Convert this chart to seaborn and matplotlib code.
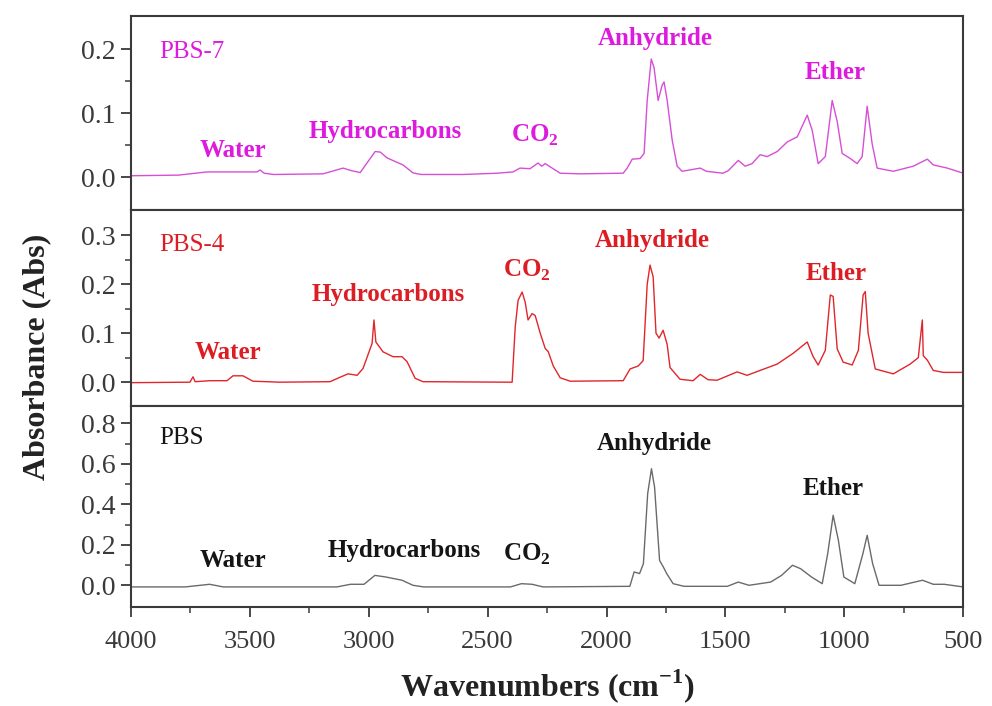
import numpy as np
import pandas as pd
import matplotlib
matplotlib.use("Agg")
import matplotlib.pyplot as plt
import seaborn as sns
from matplotlib.ticker import MultipleLocator, FixedLocator

# FTIR spectra of the evolved gases (wavenumber in cm^-1, absorbance)
pbs7_wn = [4000, 3800, 3680, 3470, 3457, 3440, 3400, 3192, 3108, 3073, 3036, 2973, 2951,
           2923, 2881, 2856, 2814, 2780, 2603, 2460, 2393, 2364, 2322, 2288, 2273, 2258,
           2237, 2195, 2111, 1930, 1913, 1892, 1859, 1842, 1829, 1812, 1800, 1783, 1766,
           1758, 1745, 1724, 1703, 1682, 1606, 1580, 1510, 1488, 1446, 1417, 1388, 1354,
           1325, 1282, 1240, 1198, 1156, 1135, 1110, 1080, 1051, 1030, 1009, 975, 946,
           925, 904, 883, 862, 794, 710, 651, 626, 567, 500]
pbs7_abs = [0.002, 0.003, 0.008, 0.008, 0.011, 0.006, 0.004, 0.005, 0.014, 0.010, 0.007,
            0.040, 0.039, 0.030, 0.023, 0.019, 0.0065, 0.004, 0.004, 0.006, 0.008, 0.014,
            0.013, 0.022, 0.017, 0.021, 0.016, 0.006, 0.005, 0.006, 0.014, 0.028, 0.029,
            0.037, 0.120, 0.185, 0.171, 0.120, 0.144, 0.149, 0.120, 0.058, 0.017, 0.009,
            0.014, 0.009, 0.006, 0.010, 0.026, 0.017, 0.021, 0.035, 0.032, 0.040, 0.055,
            0.063, 0.097, 0.073, 0.021, 0.032, 0.120, 0.087, 0.037, 0.029, 0.021, 0.032,
            0.111, 0.052, 0.014, 0.009, 0.017, 0.028, 0.019, 0.014, 0.006]

pbs4_wn = [4000, 3752, 3739, 3730, 3668, 3596, 3571, 3529, 3487, 3373, 3163, 3121, 3087,
           3049, 3024, 2986, 2978, 2970, 2940, 2898, 2860, 2839, 2805, 2772, 2406, 2397,
           2384, 2372, 2355, 2342, 2330, 2313, 2300, 2279, 2258, 2245, 2224, 2195, 2153,
           1930, 1901, 1867, 1846, 1829, 1817, 1804, 1792, 1779, 1762, 1745, 1733, 1691,
           1636, 1606, 1573, 1535, 1451, 1409, 1354, 1282, 1215, 1156, 1131, 1110, 1080,
           1059, 1047, 1030, 1005, 967, 941, 921, 912, 900, 870, 794, 723, 689, 672, 668,
           651, 626, 584, 512, 500]
pbs4_abs = [-0.001, 0.000, 0.011, 0.001, 0.003, 0.003, 0.013, 0.013, 0.002, 0.000, 0.001,
            0.010, 0.017, 0.014, 0.028, 0.079, 0.127, 0.082, 0.062, 0.052, 0.052, 0.042,
            0.008, 0.001, 0.000, 0.000, 0.113, 0.167, 0.184, 0.163, 0.127, 0.140, 0.136,
            0.100, 0.069, 0.062, 0.033, 0.009, 0.002, 0.003, 0.027, 0.033, 0.044, 0.200,
            0.239, 0.215, 0.100, 0.090, 0.106, 0.077, 0.030, 0.006, 0.003, 0.016, 0.005,
            0.004, 0.021, 0.014, 0.024, 0.037, 0.059, 0.082, 0.052, 0.035, 0.065, 0.178,
            0.175, 0.068, 0.041, 0.035, 0.065, 0.178, 0.185, 0.100, 0.027, 0.017, 0.037,
            0.050, 0.127, 0.054, 0.045, 0.024, 0.020, 0.020, 0.020]

pbs_wn = [4000, 3772, 3669, 3612, 3134, 3077, 3020, 2974, 2928, 2860, 2814, 2769, 2404,
          2358, 2313, 2267, 1902, 1884, 1861, 1845, 1827, 1811, 1798, 1777, 1761, 1747,
          1720, 1674, 1492, 1446, 1401, 1310, 1264, 1218, 1184, 1138, 1093, 1070, 1047,
          1025, 1002, 956, 922, 904, 881, 854, 762, 671, 626, 580, 500]
pbs_abs = [-0.008, -0.008, 0.005, -0.008, -0.008, 0.005, 0.005, 0.049, 0.041, 0.025, 0.000,
           -0.008, -0.008, 0.008, 0.005, -0.008, -0.005, 0.066, 0.058, 0.107, 0.453, 0.576,
           0.485, 0.123, 0.090, 0.058, 0.008, -0.005, -0.005, 0.016, 0.000, 0.016, 0.049,
           0.099, 0.082, 0.041, 0.008, 0.156, 0.346, 0.222, 0.041, 0.008, 0.156, 0.247,
           0.107, 0.000, 0.000, 0.025, 0.005, 0.005, -0.008]

band_labels = ["Water", "Hydrocarbons", "CO$_\\mathbf{2}$", "Anhydride", "Ether"]

panels = [
    dict(name="PBS-7", wn=pbs7_wn, ab=pbs7_abs, line="#d64fd6", text="#dd1add",
         ylim=(-0.052, 0.252), major=0.1, minor=[0.05, 0.15],
         label_xy=[(3571, 0.042), (2931, 0.071), (2300, 0.066), (1796, 0.217), (1038, 0.164)],
         name_xy=(3880, 0.196)),
    dict(name="PBS-4", wn=pbs4_wn, ab=pbs4_abs, line="#e0262a", text="#dc1e24",
         ylim=(-0.049, 0.351), major=0.1, minor=[0.05, 0.15, 0.25],
         label_xy=[(3592, 0.061), (2919, 0.178), (2334, 0.229), (1808, 0.290), (1034, 0.222)],
         name_xy=(3880, 0.280)),
    dict(name="PBS", wn=pbs_wn, ab=pbs_abs, line="#6a6a6a", text="#151515",
         ylim=(-0.108, 0.885), major=0.2, minor=[0.1, 0.3, 0.5, 0.7],
         label_xy=[(3571, 0.124), (2851, 0.170), (2334, 0.154), (1800, 0.700), (1047, 0.478)],
         name_xy=(3880, 0.730)),
]

sns.set_theme(style="ticks")
plt.rcParams["font.family"] = ["Liberation Serif", "DejaVu Serif"]
plt.rcParams["mathtext.fontset"] = "custom"
plt.rcParams["mathtext.rm"] = "Liberation Serif"
plt.rcParams["mathtext.bf"] = "Liberation Serif:bold"

fig = plt.figure(figsize=(9.92, 7.06), dpi=100)
gs = fig.add_gridspec(3, 1, left=0.132, right=0.971, top=0.977, bottom=0.140,
                      hspace=0, height_ratios=[194, 196, 201])
axes = [fig.add_subplot(gs[i]) for i in range(3)]

frame = "#3a3a3a"
for ax, p in zip(axes, panels):
    df = pd.DataFrame({"wn": p["wn"], "abs": p["ab"]})
    sns.lineplot(data=df, x="wn", y="abs", ax=ax, color=p["line"], linewidth=1.0,
                 estimator=None, sort=False)
    ax.set_xlim(4000, 500)
    ax.set_ylim(*p["ylim"])
    ax.xaxis.set_major_locator(MultipleLocator(500))
    ax.xaxis.set_minor_locator(MultipleLocator(250))
    ax.yaxis.set_major_locator(MultipleLocator(p["major"]))
    ax.yaxis.set_minor_locator(FixedLocator(p["minor"]))
    ax.tick_params(which="major", direction="out", length=7, width=1.3, color=frame,
                   labelsize=20, labelcolor="#3a3a3a", pad=4)
    ax.tick_params(axis="x", which="major", labelsize=19, pad=10)
    ax.tick_params(which="minor", direction="out", length=4, width=1.1, color=frame)
    ax.tick_params(axis="x", which="both", top=False)
    ax.tick_params(axis="y", which="both", right=False)
    for s in ax.spines.values():
        s.set_color(frame)
        s.set_linewidth(1.5)
        s.set_visible(True)
    ax.set_xlabel("")
    ax.set_ylabel("")
    ax.yaxis.set_major_formatter(matplotlib.ticker.FormatStrFormatter("%.1f"))
    ax.text(*p["name_xy"], p["name"], color=p["text"], fontsize=18, ha="left", va="center")
    for txt, (x, y) in zip(band_labels, p["label_xy"]):
        ax.text(x, y, txt, color=p["text"], fontsize=18, fontweight="bold",
                ha="center", va="center")

for ax in axes[:2]:
    ax.tick_params(axis="x", which="both", labelbottom=False)

axes[2].set_xlabel("Wavenumbers (cm$^{\\mathbf{-1}}$)", fontsize=23, fontweight="bold",
                   color="#222222", labelpad=10)
fig.text(0.037, 0.495, "Absorbance (Abs)", rotation=90, fontsize=23, fontweight="bold",
         color="#222222", ha="center", va="center")

fig.savefig("out.png", dpi=100, facecolor="white")
